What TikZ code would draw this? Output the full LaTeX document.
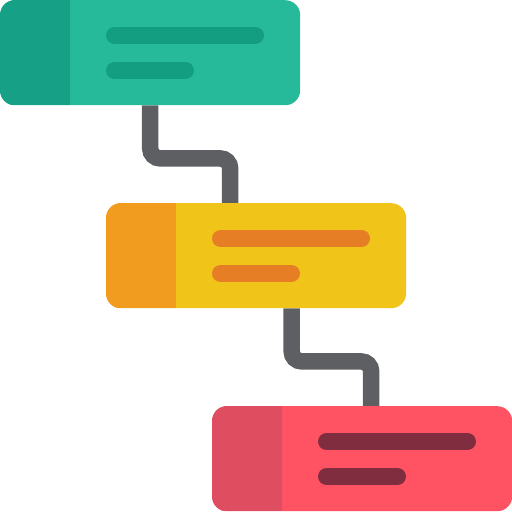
\documentclass[tikz,border=0pt]{standalone}
\usetikzlibrary{backgrounds}
\definecolor{tealA}{HTML}{26BA9A}
\definecolor{tealB}{HTML}{16A085}
\definecolor{tealC}{HTML}{139E82}
\definecolor{yelA}{HTML}{F0C419}
\definecolor{yelB}{HTML}{F29C1F}
\definecolor{yelC}{HTML}{E57E25}
\definecolor{redA}{HTML}{FF5364}
\definecolor{redB}{HTML}{DF4D60}
\definecolor{redC}{HTML}{802D40}
\definecolor{connc}{HTML}{5E5F62}
\tikzset{
  card/.style={rectangle, rounded corners=15pt, minimum width=300pt, minimum height=105pt, inner sep=0pt, draw=none},
  bar/.style={line width=17pt, line cap=round},
  conn/.style={draw=connc, line width=16.5pt, rounded corners=10pt}
}
\newcommand{\mycard}[5]{%
  \node[card, fill=#4, anchor=north west] (#1) at (#2,#3) {};
  \begin{scope}
    \clip[rounded corners=15pt] (#1.north west) rectangle (#1.south east);
    \fill[#5] (#1.north west) rectangle ([xshift=70pt]#1.south west);
  \end{scope}
}
\begin{document}
\begin{tikzpicture}[x=1pt,y=-1pt]
\useasboundingbox (0,0) rectangle (512,512);
\mycard{box1}{0}{0}{tealA}{tealB}
\draw[bar, tealC] ([shift={(114.5,35.5)}]box1.north west) -- ([shift={(255.5,35.5)}]box1.north west);
\draw[bar, tealC] ([shift={(114.5,70.5)}]box1.north west) -- ([shift={(185.5,70.5)}]box1.north west);
\mycard{box2}{106}{203}{yelA}{yelB}
\draw[bar, yelC] ([shift={(114.5,35.5)}]box2.north west) -- ([shift={(255.5,35.5)}]box2.north west);
\draw[bar, yelC] ([shift={(114.5,70.5)}]box2.north west) -- ([shift={(185.5,70.5)}]box2.north west);
\mycard{box3}{212}{406}{redA}{redB}
\draw[bar, redC] ([shift={(114.5,35.5)}]box3.north west) -- ([shift={(255.5,35.5)}]box3.north west);
\draw[bar, redC] ([shift={(114.5,70.5)}]box3.north west) -- ([shift={(185.5,70.5)}]box3.north west);
\begin{pgfonlayer}{background}
\draw[conn] (box1.south) -- ++(0,53) -| ([xshift=-26pt]box2.north);
\draw[conn] ([xshift=35.5pt]box2.south) -- ++(0,53) -| ([xshift=9pt]box3.north);
\end{pgfonlayer}
\end{tikzpicture}
\end{document}
